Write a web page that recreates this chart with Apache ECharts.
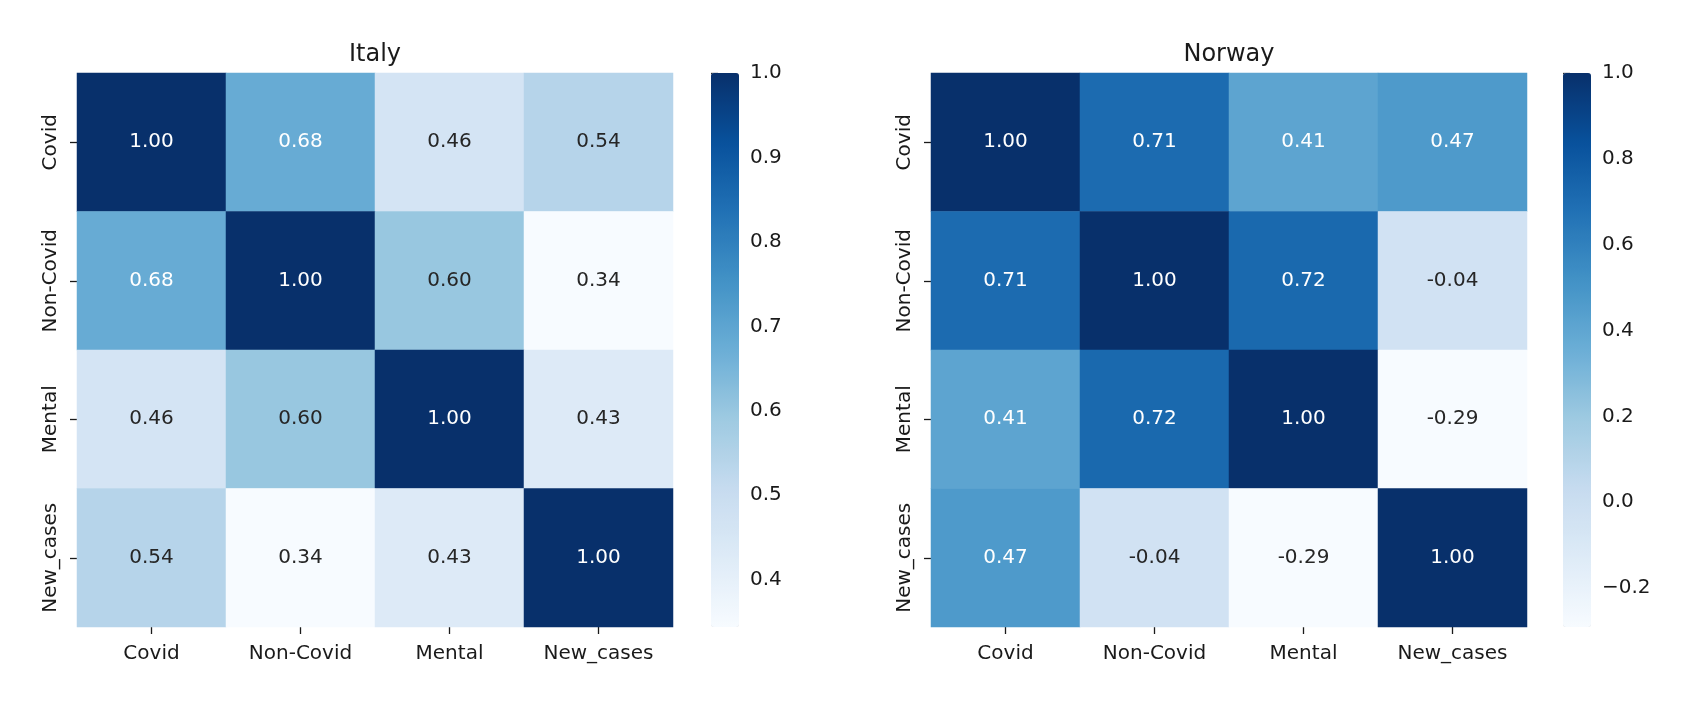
<!DOCTYPE html>
<html>
<head>
<meta charset="utf-8">
<script src="https://cdn.jsdelivr.net/npm/echarts@6/dist/echarts.min.js"></script>
<style>
  html, body { margin: 0; padding: 0; background: #fff; }
  #main { width: 1695px; height: 702px; }
</style>
</head>
<body>
<div id="main"></div>
<script>
// variables shown on both axes
var labels = ['Covid', 'Non-Covid', 'Mental', 'New_cases'];

// correlation matrices
var italyRows = [
    [1.00, 0.68, 0.46, 0.54],
    [0.68, 1.00, 0.60, 0.344],
    [0.46, 0.60, 1.00, 0.43],
    [0.54, 0.344, 0.43, 1.00]
];
var norwayRows = [
    [1.00, 0.71, 0.41, 0.47],
    [0.71, 1.00, 0.72, -0.04],
    [0.41, 0.72, 1.00, -0.291],
    [0.47, -0.04, -0.291, 1.00]
];

// colorbar ticks
var italyTicks = [0.4, 0.5, 0.6, 0.7, 0.8, 0.9, 1.0];
var norwayTicks = [-0.2, 0.0, 0.2, 0.4, 0.6, 0.8, 1.0];

// matplotlib "Blues"
var blues = ['#f7fbff', '#deebf7', '#c6dbef', '#9ecae1', '#6baed6', '#4292c6', '#2171b5', '#08519c', '#08306b'];

var font = 'DejaVu Sans';
var txt = '#1a1a1a';

function rangeOf(rows) {
    var lo = Infinity, hi = -Infinity;
    rows.forEach(function (r) { r.forEach(function (v) { lo = Math.min(lo, v); hi = Math.max(hi, v); }); });
    return [lo, hi];
}

function cells(rows) {
    var rg = rangeOf(rows);
    var out = [];
    rows.forEach(function (r, yi) {
        r.forEach(function (v, xi) {
            var t = (v - rg[0]) / (rg[1] - rg[0]);
            out.push({
                value: [xi, yi, v],
                label: { color: t > 0.45 ? '#ffffff' : '#262626' }
            });
        });
    });
    return out;
}

function fmtTick(v) {
    var s = Math.abs(v).toFixed(1);
    return v < -1e-9 ? '\u2212' + s : s;
}

function fmtCell(d) {
    var v = d.value[2];
    return (v < 0 ? '-' : '') + Math.abs(v).toFixed(2);
}

var italyRange = rangeOf(italyRows);
var norwayRange = rangeOf(norwayRows);

// panel positions
var panels = [
    { left: 77, cbLeft: 711, title: 'Italy', rows: italyRows, range: italyRange, ticks: italyTicks },
    { left: 931, cbLeft: 1563, title: 'Norway', rows: norwayRows, range: norwayRange, ticks: norwayTicks }
];
var plotTop = 73, plotW = 596, plotH = 554, cbW = 28;

var option = {
    animation: false,
    backgroundColor: '#fff',
    textStyle: { fontFamily: font },
    title: [],
    grid: [],
    xAxis: [],
    yAxis: [],
    visualMap: [],
    series: []
};

panels.forEach(function (p, i) {
    option.title.push({
        text: p.title,
        left: p.left + plotW / 2,
        top: 43,
        padding: 0,
        textAlign: 'center',
        textStyle: { fontFamily: font, fontSize: 24, fontWeight: 'normal', color: txt }
    });

    // heatmap grid
    option.grid.push({ left: p.left, top: plotTop, width: plotW, height: plotH });
    option.xAxis.push({
        type: 'category', gridIndex: 2 * i, data: labels, position: 'bottom',
        axisLine: { show: false },
        axisTick: { show: true, alignWithLabel: true, length: 7, lineStyle: { color: txt, width: 1.3 } },
        axisLabel: { fontFamily: font, fontSize: 20, color: txt, margin: 17, interval: 0 },
        splitArea: { show: false }
    });
    option.yAxis.push({
        type: 'category', gridIndex: 2 * i, data: labels, inverse: true,
        axisLine: { show: false },
        axisTick: { show: true, alignWithLabel: true, length: 7, lineStyle: { color: txt, width: 1.3 } },
        axisLabel: { fontFamily: font, fontSize: 20, color: txt, rotate: 90, margin: 16, interval: 0, hideOverlap: false },
        splitArea: { show: false }
    });

    // colorbar tick axis
    option.grid.push({ left: p.cbLeft, top: plotTop, width: cbW, height: plotH });
    option.xAxis.push({ type: 'value', gridIndex: 2 * i + 1, show: false, min: 0, max: 1 });
    option.yAxis.push({
        type: 'value', gridIndex: 2 * i + 1, position: 'right',
        min: p.range[0], max: p.range[1],
        axisLine: { show: false },
        splitLine: { show: false },
        axisTick: { show: true, length: 7, customValues: p.ticks, lineStyle: { color: txt, width: 1.3 } },
        axisLabel: {
            fontFamily: font, fontSize: 20, color: txt, margin: 11,
            customValues: p.ticks, formatter: fmtTick
        }
    });

    option.visualMap.push({
        type: 'continuous',
        seriesIndex: i,
        min: p.range[0], max: p.range[1],
        calculable: false,
        hoverLink: false,
        left: p.cbLeft, top: plotTop,
        padding: 0,
        itemWidth: cbW, itemHeight: plotH,
        showLabel: false,
        inRange: { color: blues }
    });

    option.series.push({
        type: 'heatmap',
        xAxisIndex: 2 * i, yAxisIndex: 2 * i,
        data: cells(p.rows),
        label: { show: true, fontFamily: font, fontSize: 20, formatter: fmtCell },
        emphasis: { disabled: true }
    });
});

var chart = echarts.init(document.getElementById('main'));
chart.setOption(option);
</script>
</body>
</html>
